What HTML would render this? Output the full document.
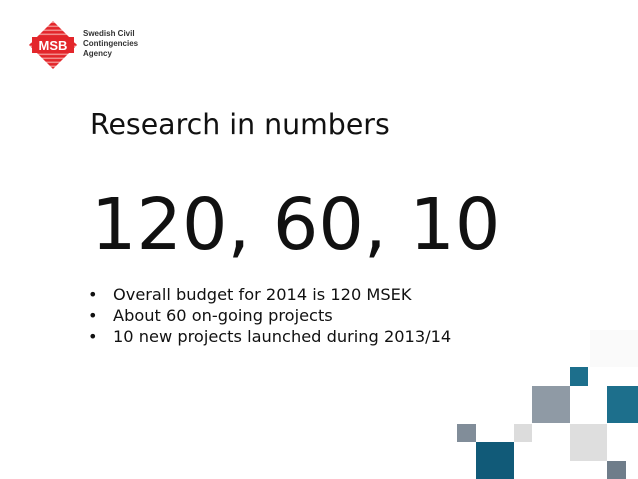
<!DOCTYPE html>
<html><head><meta charset="utf-8"><style>
body{margin:0;width:638px;height:479px;overflow:hidden;background:#fff;font-family:"DejaVu Sans","Liberation Sans",sans-serif;position:relative}
.a{position:absolute}
.sq{position:absolute}
</style></head><body>
<div class="a" style="left:28px;top:20px;width:50px;height:50px">
<svg width="50" height="50" viewBox="0 0 50 50">
<defs><pattern id="st" width="4" height="4" patternUnits="userSpaceOnUse" patternTransform="rotate(45)"><rect width="4" height="4" fill="#e3262b"/><rect width="1.2" height="4" fill="#f7a7a5"/></pattern></defs>
<rect x="8" y="8" width="34" height="34" transform="rotate(45 25 25)" fill="url(#st)"/>
<rect x="4" y="17" width="42" height="16" fill="#e3262b"/>
<text x="25" y="30" text-anchor="middle" font-size="13" font-weight="bold" fill="#fff" font-family="Liberation Sans,sans-serif">MSB</text>
</svg></div>
<div class="a" style="left:83px;top:29px;font-family:'Liberation Sans',sans-serif;font-size:8px;line-height:10px;font-weight:bold;color:#333">Swedish Civil<br>Contingencies<br>Agency</div>
<div class="a" style="left:90px;top:108px;font-size:28.4px;color:#111">Research in numbers</div>
<div class="a" style="left:91px;top:183px;font-size:71.5px;color:#111">120, 60, 10</div>
<div class="a" style="left:88px;top:284px;font-size:16.2px;line-height:21px;color:#111">
<div><span style="display:inline-block;width:25px">•</span>Overall budget for 2014 is 120 MSEK</div>
<div><span style="display:inline-block;width:25px">•</span>About 60 on-going projects</div>
<div><span style="display:inline-block;width:25px">•</span>10 new projects launched during 2013/14</div>
</div>
<div>
<div class="sq" style="left:590px;top:330px;width:48px;height:37px;background:#fafafa"></div>
<div class="sq" style="left:570px;top:367px;width:18px;height:19px;background:#1d6f8c"></div>
<div class="sq" style="left:532px;top:386px;width:38px;height:37px;background:#8f9aa5"></div>
<div class="sq" style="left:607px;top:386px;width:31px;height:37px;background:#1d6f8c"></div>
<div class="sq" style="left:457px;top:424px;width:19px;height:18px;background:#818d99"></div>
<div class="sq" style="left:514px;top:424px;width:18px;height:18px;background:#dcdcdc"></div>
<div class="sq" style="left:476px;top:442px;width:38px;height:37px;background:#115a78"></div>
<div class="sq" style="left:570px;top:424px;width:37px;height:37px;background:#dedede"></div>
<div class="sq" style="left:607px;top:461px;width:19px;height:18px;background:#6f7d8a"></div>
</div>
</body></html>
